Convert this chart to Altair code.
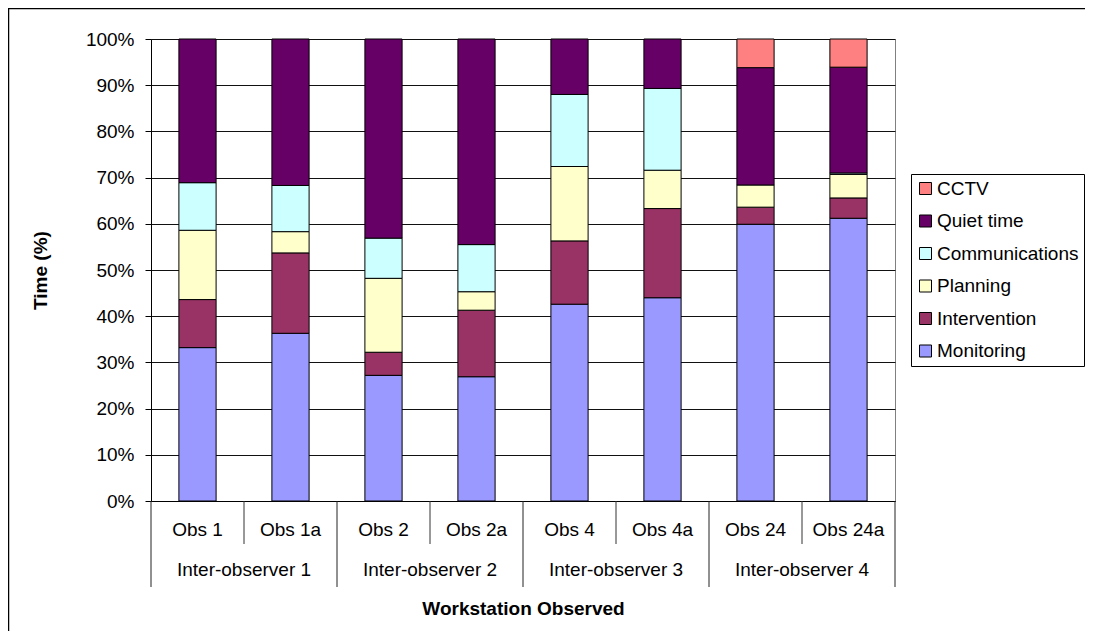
import altair as alt
import pandas as pd

obs = ["Obs 1", "Obs 1a", "Obs 2", "Obs 2a", "Obs 4", "Obs 4a", "Obs 24", "Obs 24a"]
groups = ["Inter-observer 1", "Inter-observer 2", "Inter-observer 3", "Inter-observer 4"]

categories = ["Monitoring", "Intervention", "Planning", "Communications", "Quiet time", "CCTV"]
monitoring = [33.2, 36.3, 27.2, 26.9, 42.6, 44.0, 59.9, 61.2]
intervention = [10.4, 17.4, 5.0, 14.4, 13.7, 19.3, 3.7, 4.4]
planning = [15.0, 4.6, 16.0, 4.0, 16.1, 8.3, 4.8, 5.1]
communications = [10.3, 10.0, 8.7, 10.2, 15.6, 17.7, 0.0, 0.3]
quiet_time = [31.1, 31.7, 43.1, 44.5, 12.0, 10.7, 25.4, 22.9]
cctv = [0.0, 0.0, 0.0, 0.0, 0.0, 0.0, 6.2, 6.1]

colors = ["#9999FF", "#993366", "#FFFFCC", "#CCFFFF", "#660066", "#FF8080"]

series = [monitoring, intervention, planning, communications, quiet_time, cctv]
rows = []
for k, (cat, vals) in enumerate(zip(categories, series)):
    for i, (o, v) in enumerate(zip(obs, vals)):
        if v > 0:
            rows.append({"obs": o, "idx": i, "category": cat, "order": k, "value": v})
df = pd.DataFrame(rows)

obs_df = pd.DataFrame({"obs": obs, "idx": list(range(len(obs)))})
grp_df = pd.DataFrame({"group": groups, "gidx": list(range(len(groups)))})

FONT = "Liberation Sans"
FS = 19
W, H = 744, 462

xscale = alt.Scale(domain=[0, len(obs)], nice=False, zero=False)
yscale = alt.Scale(domain=[0, 100], nice=False)

legend_domain = categories[::-1]
legend_range = colors[::-1]

bars = alt.Chart(df).transform_stack(
    stack="value", groupby=["obs"], as_=["y0", "y1"],
    sort=[alt.SortField(field="order", order="ascending")]
).transform_calculate(
    x0="datum.idx + 0.3", x1="datum.idx + 0.7"
).mark_bar(stroke="black", strokeWidth=1).encode(
    x=alt.X("x0:Q", scale=xscale, axis=alt.Axis(
        labels=False, ticks=False, grid=False, domainColor="black", domainWidth=1,
        title="Workstation Observed", titleFontSize=FS, titleFontWeight="bold",
        titleColor="black", titleY=107, titleBaseline="middle", titleFont=FONT)),
    x2="x1:Q",
    y=alt.Y("y0:Q", scale=yscale, axis=alt.Axis(
        values=list(range(0, 101, 10)), labelExpr="datum.value + '%'",
        labelFontSize=FS, labelColor="black", labelFont=FONT, labelPadding=11,
        tickSize=6, tickColor="black", domainColor="black",
        grid=True, gridColor="#111111", gridWidth=1,
        title="Time (%)", titleFontSize=FS, titleFontWeight="bold", titleColor="black",
        titleFont=FONT, titleX=-111, titleY=H / 2, titleAngle=270,
        titleAlign="center", titleBaseline="middle")),
    y2="y1:Q",
    color=alt.Color("category:N", scale=alt.Scale(domain=legend_domain, range=legend_range),
                    legend=alt.Legend(
                        title=None, orient="none", legendX=760, legendY=135,
                        strokeColor="black", padding=5, symbolType="square",
                        symbolSize=144, symbolStrokeColor="black", symbolStrokeWidth=1,
                        symbolOpacity=1, labelFontSize=FS, labelFont=FONT,
                        labelColor="black", rowPadding=12.5, labelOffset=2,
                        fillColor="white")),
)

minor = alt.Chart(grp_df).transform_calculate(
    pos="2 * datum.gidx + 1"
).mark_rule(color="#333333", strokeWidth=1).encode(
    x=alt.X("pos:Q", scale=xscale),
    y=alt.value(H), y2=alt.value(H + 43),
)

major_df = pd.DataFrame({"gidx": list(range(len(groups) + 1))})
major = alt.Chart(major_df).transform_calculate(
    pos="2 * datum.gidx"
).mark_rule(color="#222222", strokeWidth=1).encode(
    x=alt.X("pos:Q", scale=xscale),
    y=alt.value(H), y2=alt.value(H + 86),
)

obs_text = alt.Chart(obs_df).transform_calculate(
    pos="datum.idx + 0.5"
).mark_text(fontSize=FS, font=FONT, color="black", baseline="middle", align="center").encode(
    x=alt.X("pos:Q", scale=xscale), y=alt.value(H + 29), text="obs:N",
)

grp_text = alt.Chart(grp_df).transform_calculate(
    pos="2 * datum.gidx + 1"
).mark_text(fontSize=FS, font=FONT, color="black", baseline="middle", align="center").encode(
    x=alt.X("pos:Q", scale=xscale), y=alt.value(H + 69), text="group:N",
)

frame = alt.Chart(pd.DataFrame({"a": [0]})).mark_rect(
    fill="transparent", stroke="black", strokeWidth=1.5
).encode(
    x=alt.value(-142.5), x2=alt.value(W + 600), y=alt.value(-30.5), y2=alt.value(H + 600)
)

chart = alt.layer(frame, bars, minor, major, obs_text, grp_text).properties(
    width=W, height=H,
    autosize=alt.AutoSizeParams(type="none"),
    padding={"left": 143, "top": 31, "right": 190, "bottom": 130},
).configure(font=FONT).configure_view(stroke="#808080", strokeWidth=1)

chart.save("out.html", embed_options={"renderer": "svg", "actions": False})
